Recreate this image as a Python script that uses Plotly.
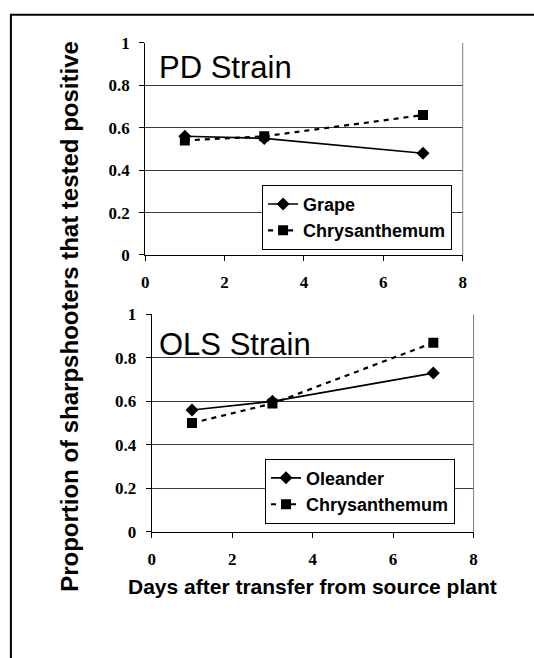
import plotly.graph_objects as go

days = [1, 3, 7]
pd_grape = [0.56, 0.55, 0.48]
pd_chrys = [0.54, 0.56, 0.66]
ols_oleander = [0.56, 0.60, 0.73]
ols_chrys = [0.50, 0.59, 0.87]

x_ticks = [0, 2, 4, 6, 8]
y_ticks = [0, 0.2, 0.4, 0.6, 0.8, 1]
y_ticklabels = ["0", "0.2", "0.4", "0.6", "0.8", "1"]

W, H = 534, 658

def px(x):
    return x / W

def py(y):
    return 1 - y / H

tickfont = dict(family="Times New Roman, Liberation Serif, serif", size=17, color="black", weight="bold")
legfont = dict(family="Arial, Liberation Sans, sans-serif", size=18, color="black", weight="bold")

fig = go.Figure()

solid = dict(color="black", width=1.6)
dashed = dict(color="black", width=2.2, dash="5px,5px")

fig.add_trace(go.Scatter(x=days, y=pd_grape, name="Grape", mode="lines+markers",
                         line=solid, marker=dict(symbol="diamond", size=10, color="black"),
                         xaxis="x", yaxis="y", legend="legend", legendgroup="a"))
fig.add_trace(go.Scatter(x=days, y=pd_chrys, name="Chrysanthemum", mode="lines+markers",
                         line=dashed, marker=dict(symbol="square", size=10, color="black"),
                         xaxis="x", yaxis="y", legend="legend", legendgroup="b"))
fig.add_trace(go.Scatter(x=days, y=ols_oleander, name="Oleander", mode="lines+markers",
                         line=solid, marker=dict(symbol="diamond", size=10, color="black"),
                         xaxis="x2", yaxis="y2", legend="legend2", legendgroup="c"))
fig.add_trace(go.Scatter(x=days, y=ols_chrys, name="Chrysanthemum", mode="lines+markers",
                         line=dashed, marker=dict(symbol="square", size=10, color="black"),
                         xaxis="x2", yaxis="y2", legend="legend2", legendgroup="d"))

def xaxis(domain, anchor):
    return dict(domain=domain, anchor=anchor, range=[0, 8], tickvals=x_ticks,
                ticks="outside", ticklen=5, tickcolor="black", tickwidth=1,
                showline=True, linecolor="black", linewidth=1, showgrid=False,
                zeroline=False, tickfont=tickfont, ticklabelstandoff=7, fixedrange=True)

def yaxis(domain, anchor):
    return dict(domain=domain, anchor=anchor, range=[0, 1], tickvals=y_ticks,
                ticktext=y_ticklabels, ticks="outside", ticklen=5, tickcolor="black",
                tickwidth=1, showline=True, linecolor="black", linewidth=1,
                showgrid=True, gridcolor="#3a3a3a", gridwidth=1, zeroline=False,
                tickfont=tickfont, ticklabelstandoff=6, fixedrange=True)

legbox = dict(bgcolor="white", bordercolor="black", borderwidth=1, font=legfont,
              xanchor="left", yanchor="top", tracegroupgap=0, traceorder="grouped")

fig.update_layout(
    width=W, height=H,
    margin=dict(l=0, r=0, t=0, b=0),
    paper_bgcolor="white", plot_bgcolor="white",
    xaxis=xaxis([px(143.3), px(465.7)], "y"),
    yaxis=yaxis([py(253.3), py(35)], "x"),
    xaxis2=xaxis([px(150), px(476.7)], "y2"),
    yaxis2=yaxis([py(538.3), py(314.5)], "x2"),
    legend=dict(x=px(262), y=py(181), **legbox),
    legend2=dict(x=px(265), y=py(463), **legbox),
    showlegend=True,
)

# right borders of the plot areas
for xr, yr in (("x", "y"), ("x2", "y2")):
    fig.add_shape(type="line", xref=f"{xr} domain", yref=f"{yr} domain",
                  x0=1, x1=1, y0=0, y1=1, line=dict(color="#808080", width=1))

# outer frame
fig.add_shape(type="rect", xref="paper", yref="paper",
              x0=px(7), x1=1.05, y0=-0.05, y1=py(6),
              line=dict(color="black", width=2))

fig.add_annotation(text="PD Strain", xref="paper", yref="paper", x=px(155), y=py(60.5),
                   xanchor="left", yanchor="middle", showarrow=False,
                   font=dict(family="Arial, Liberation Sans, sans-serif", size=31, color="black"))
fig.add_annotation(text="OLS Strain", xref="paper", yref="paper", x=px(155), y=py(345),
                   xanchor="left", yanchor="middle", showarrow=False,
                   font=dict(family="Arial, Liberation Sans, sans-serif", size=31, color="black"))
fig.add_annotation(text="Proportion of sharpshooters that tested positive",
                   xref="paper", yref="paper", x=px(67), y=py(316), textangle=-90,
                   xanchor="center", yanchor="middle", showarrow=False,
                   font=dict(family="Arial, Liberation Sans, sans-serif", size=24, color="black", weight="bold"))
fig.add_annotation(text="Days after transfer from source plant",
                   xref="paper", yref="paper", x=px(313.5), y=py(595),
                   xanchor="center", yanchor="middle", showarrow=False,
                   font=dict(family="Arial, Liberation Sans, sans-serif", size=21, color="black", weight="bold"))

fig.write_html("out.html", config={"displayModeBar": False},
               post_script="document.body.style.margin='0';")
